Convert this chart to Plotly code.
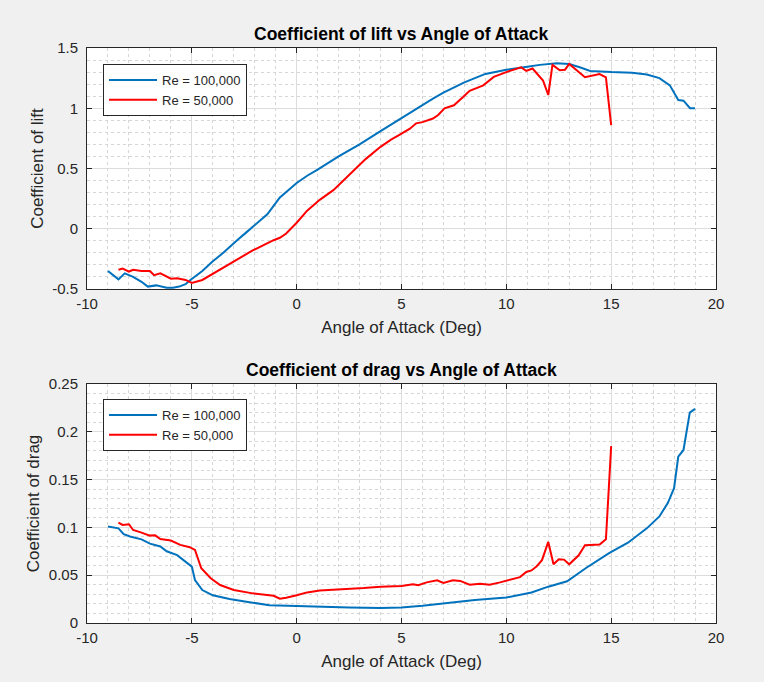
import plotly.graph_objects as go

# ---------------- data ----------------
aoa_cl_100 = [-9.0, -8.5, -8.2, -7.8, -7.4, -7.1, -6.7, -6.5, -6.2, -5.9, -5.6, -5.3, -5.1,
              -4.5, -4.0, -3.5, -3.2, -2.8, -2.4, -2.0, -1.7, -1.4, -1.1, -0.8, -0.4, 0.0,
              0.5, 1.0, 2.0, 3.0, 4.0, 5.0, 6.0, 6.5, 7.0, 8.0, 9.0, 10.0, 11.0, 11.6,
              12.4, 13.0, 13.5, 14.0, 15.0, 16.0, 16.7, 17.3, 17.8, 18.0, 18.2, 18.45,
              18.6, 18.76, 19.0]
cl_100 = [-0.35, -0.42, -0.37, -0.40, -0.44, -0.48, -0.47, -0.48, -0.49, -0.49, -0.48, -0.46, -0.43,
          -0.35, -0.27, -0.20, -0.15, -0.09, -0.03, 0.03, 0.07, 0.12, 0.19, 0.26, 0.32, 0.38,
          0.44, 0.49, 0.60, 0.70, 0.81, 0.92, 1.03, 1.08, 1.13, 1.215, 1.285, 1.32, 1.345, 1.36,
          1.373, 1.367, 1.34, 1.31, 1.30, 1.295, 1.28, 1.25, 1.19, 1.13, 1.068, 1.063,
          1.03, 1.0, 1.0]

aoa_cl_50 = [-8.5, -8.3, -8.0, -7.8, -7.4, -7.0, -6.8, -6.5, -6.0, -5.7, -5.3, -5.0, -4.5,
             -4.0, -3.2, -2.1, -1.1, -0.8, -0.5, -0.2, 0.0, 0.5, 1.1, 1.75, 2.5, 3.3, 4.0,
             4.5, 4.9, 5.4, 5.7, 6.0, 6.5, 6.75, 7.05, 7.5, 7.95, 8.25, 8.9, 9.4, 10.0,
             10.7, 10.95, 11.25, 11.75, 12.0, 12.2, 12.55, 12.8, 13.0, 13.75, 14.45, 14.75, 15.0]
cl_50 = [-0.34, -0.33, -0.355, -0.34, -0.35, -0.35, -0.385, -0.37, -0.415, -0.41, -0.425, -0.45, -0.425,
         -0.375, -0.29, -0.18, -0.095, -0.075, -0.04, 0.01, 0.05, 0.15, 0.24, 0.32, 0.45, 0.58, 0.68,
         0.74, 0.78, 0.83, 0.875, 0.885, 0.915, 0.944, 1.0, 1.025, 1.095, 1.145, 1.19, 1.26, 1.30,
         1.34, 1.31, 1.33, 1.23, 1.11, 1.36, 1.315, 1.32, 1.367, 1.257, 1.284, 1.257, 0.86]

aoa_cd_100 = [-9.0, -8.5, -8.25, -7.95, -7.4, -7.0, -6.5, -6.2, -5.7, -5.3, -5.0, -4.85, -4.5,
              -4.0, -3.2, -2.4, -1.3, 0.0, 1.1, 2.5, 4.0, 5.0, 6.0, 7.15, 8.5, 10.0, 11.2,
              12.0, 12.9, 13.8, 14.9, 15.8, 16.7, 17.3, 17.7, 18.0, 18.2, 18.45, 18.75, 19.0]
cd_100 = [0.101, 0.099, 0.093, 0.0905, 0.0875, 0.083, 0.080, 0.075, 0.071, 0.064, 0.059, 0.045, 0.0345,
          0.029, 0.025, 0.0223, 0.0185, 0.0178, 0.017, 0.0162, 0.0157, 0.0162, 0.018, 0.021, 0.024, 0.0266, 0.032,
          0.038, 0.0436, 0.0575, 0.073, 0.084, 0.099, 0.1115, 0.1255, 0.141, 0.174, 0.181, 0.22, 0.224]

aoa_cd_50 = [-8.5, -8.3, -8.0, -7.8, -7.4, -7.0, -6.75, -6.5, -6.0, -5.55, -5.1, -4.85, -4.55,
             -4.1, -3.65, -3.0, -2.1, -1.1, -0.8, -0.5, 0.0, 0.5, 1.1, 1.6, 2.3, 3.2, 4.0,
             5.0, 5.55, 5.8, 6.2, 6.7, 7.0, 7.45, 7.8, 8.25, 8.75, 9.2, 9.7, 10.0, 10.65,
             10.95, 11.2, 11.45, 11.7, 12.0, 12.25, 12.5, 12.75, 13.0, 13.45, 13.75, 14.45,
             14.75, 15.0]
cd_50 = [0.105, 0.1026, 0.1033, 0.0973, 0.0945, 0.0914, 0.0917, 0.0879, 0.0862, 0.0817, 0.0793, 0.0765, 0.0573,
         0.0468, 0.0397, 0.0345, 0.031, 0.0285, 0.0255, 0.0265, 0.029, 0.032, 0.034, 0.0345, 0.0355, 0.0365, 0.038,
         0.0387, 0.0405, 0.0395, 0.0425, 0.0447, 0.042, 0.0447, 0.044, 0.040, 0.041, 0.040, 0.0425, 0.044, 0.048,
         0.0534, 0.055, 0.0594, 0.0657, 0.0848, 0.0614, 0.0667, 0.0663, 0.0614, 0.0708, 0.0813, 0.082,
         0.0875, 0.185]

series_names = ["Re = 100,000", "Re = 50,000"]
x_ticks = [-10, -5, 0, 5, 10, 15, 20]
x_ticklabels = ["-10", "-5", "0", "5", "10", "15", "20"]
cl_ticks = [-0.5, 0, 0.5, 1, 1.5]
cl_ticklabels = ["-0.5", "0", "0.5", "1", "1.5"]
cd_ticks = [0, 0.05, 0.1, 0.15, 0.2, 0.25]
cd_ticklabels = ["0", "0.05", "0.1", "0.15", "0.2", "0.25"]

titles = ["Coefficient of lift vs Angle of Attack", "Coefficient of drag vs Angle of Attack"]
xlabel = "Angle of Attack (Deg)"
ylabels = ["Coefficient of lift", "Coefficient of drag"]

# ---------------- style ----------------
BLUE = "#0072BD"
RED = "#FF0000"
FONT = "Liberation Sans, Arial, sans-serif"
AX = "#262626"
W, H = 764, 682
ML, MR, MT, MB = 87, 48, 48, 59
ph = H - MT - MB
top_dom = [(H - MB - 289) / ph, 1.0]
bot_dom = [0.0, (H - MB - 384) / ph]

fig = go.Figure()
fig.add_trace(go.Scatter(x=aoa_cl_100, y=cl_100, mode="lines", name=series_names[0],
                         line=dict(color=BLUE, width=2), xaxis="x", yaxis="y", legend="legend"))
fig.add_trace(go.Scatter(x=aoa_cl_50, y=cl_50, mode="lines", name=series_names[1],
                         line=dict(color=RED, width=2), xaxis="x", yaxis="y", legend="legend"))
fig.add_trace(go.Scatter(x=aoa_cd_100, y=cd_100, mode="lines", name=series_names[0],
                         line=dict(color=BLUE, width=2), xaxis="x2", yaxis="y2", legend="legend2"))
fig.add_trace(go.Scatter(x=aoa_cd_50, y=cd_50, mode="lines", name=series_names[1],
                         line=dict(color=RED, width=2), xaxis="x2", yaxis="y2", legend="legend2"))


def axis_common():
    return dict(
        showline=True, linecolor=AX, linewidth=1, mirror="ticks",
        ticks="inside", ticklen=5, tickcolor=AX, tickwidth=1,
        showgrid=True, gridcolor="#dcdcdc", gridwidth=1,
        zeroline=False, automargin=False,
        tickfont=dict(family=FONT, size=15, color=AX),
        title_font=dict(family=FONT, size=17, color=AX),
    )


xa = axis_common()
xa.update(range=[-10, 20], tickmode="array", tickvals=x_ticks, ticktext=x_ticklabels,
          ticklabelstandoff=1,
          minor=dict(dtick=1, showgrid=True, gridcolor="#d6d6d6", griddash="dot", ticks=""))

legend_style = dict(xanchor="left", yanchor="top", bgcolor="white", bordercolor=AX,
                    borderwidth=1, itemwidth=48, tracegroupgap=0,
                    font=dict(family=FONT, size=13, color=AX))

fig.update_layout(
    width=W, height=H,
    paper_bgcolor="#f0f0f0", plot_bgcolor="white",
    margin=dict(l=ML, r=MR, t=MT, b=MB),
    font=dict(family=FONT, color=AX),
    xaxis=dict(**xa, domain=[0, 1], anchor="y",
               title=dict(text=xlabel, standoff=10)),
    xaxis2=dict(**xa, domain=[0, 1], anchor="y2",
                title=dict(text=xlabel, standoff=10)),
    legend=dict(x=16 / (W - ML - MR), y=(H - MB - 64) / ph, **legend_style),
    legend2=dict(x=16 / (W - ML - MR), y=(H - MB - 399) / ph, **legend_style),
)

ya = axis_common()
ya.update(range=[-0.5, 1.5], tickmode="array", tickvals=cl_ticks, ticktext=cl_ticklabels,
          ticklabelstandoff=5,
          minor=dict(dtick=0.1, showgrid=True, gridcolor="#d6d6d6", griddash="dot", ticks=""),
          domain=top_dom, anchor="x", title=dict(text=ylabels[0], standoff=4))
ya2 = axis_common()
ya2.update(range=[0, 0.25], tickmode="array", tickvals=cd_ticks, ticktext=cd_ticklabels,
           ticklabelstandoff=5,
           minor=dict(dtick=0.01, showgrid=True, gridcolor="#d6d6d6", griddash="dot", ticks=""),
           domain=bot_dom, anchor="x2", title=dict(text=ylabels[1], standoff=4))
fig.update_layout(yaxis=ya, yaxis2=ya2)

fig.add_annotation(text="<b>" + titles[0] + "</b>", xref="paper", yref="paper",
                   x=0.5, y=top_dom[1], yanchor="bottom", yshift=2, showarrow=False,
                   font=dict(family=FONT, size=17.5, color="black"))
fig.add_annotation(text="<b>" + titles[1] + "</b>", xref="paper", yref="paper",
                   x=0.5, y=bot_dom[1], yanchor="bottom", yshift=2, showarrow=False,
                   font=dict(family=FONT, size=17.5, color="black"))

fig.write_html("out.html", config={"displayModeBar": False},
               post_script="document.body.style.margin='0';document.body.style.overflow='hidden';")
